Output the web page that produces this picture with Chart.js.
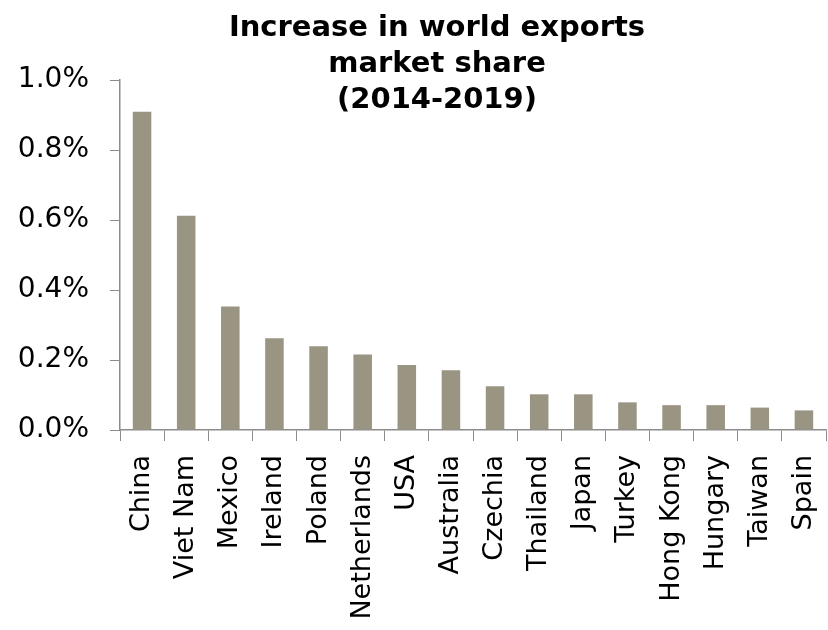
<!DOCTYPE html>
<html>
<head>
<meta charset="utf-8">
<script src="https://cdn.jsdelivr.net/npm/chart.js@4"></script>
<style>
  html, body { margin: 0; padding: 0; background: #fff; }
  #wrap { width: 828px; height: 630px; }
</style>
</head>
<body>
<div id="wrap"><canvas id="myChart" width="828" height="630"></canvas></div>
<script>
var countries = ['China', 'Viet Nam', 'Mexico', 'Ireland', 'Poland', 'Netherlands', 'USA', 'Australia',
                 'Czechia', 'Thailand', 'Japan', 'Turkey', 'Hong Kong', 'Hungary', 'Taiwan', 'Spain'];
// increase in share of world exports, percentage points
var shareIncrease = [0.909, 0.612, 0.353, 0.262, 0.239, 0.216, 0.186, 0.171,
                     0.125, 0.102, 0.102, 0.079, 0.071, 0.071, 0.064, 0.056];
var titleLines = ['Increase in world exports', 'market share', '(2014-2019)'];

var FONT = '"DejaVu Sans", sans-serif';
var AXIS = '#8c8c8c';

// title sits inside the plot, over the empty right-hand side
var titleInside = {
    id: 'titleInside',
    afterDraw: function(chart, args, opts) {
        var ctx = chart.ctx;
        ctx.save();
        ctx.fillStyle = '#000';
        ctx.font = 'bold 29px ' + FONT;
        ctx.textAlign = 'center';
        ctx.textBaseline = 'alphabetic';
        opts.lines.forEach(function(line, i) {
            ctx.fillText(line, opts.x, opts.y + i * opts.lineHeight);
        });
        ctx.restore();
    }
};

var ctx = document.getElementById('myChart').getContext('2d');

var myChart = new Chart(ctx, {
    type: 'bar',
    data: {
        labels: countries,
        datasets: [{
            data: shareIncrease,
            backgroundColor: '#9a9482',
            borderWidth: 0,
            barPercentage: 0.42,
            categoryPercentage: 1.0
        }]
    },
    options: {
        responsive: false,
        animation: false,
        layout: { padding: { top: 80, left: 0, right: 2, bottom: 0 } },
        plugins: {
            legend: { display: false },
            tooltip: { enabled: false },
            titleInside: { lines: titleLines, x: 437, y: 36, lineHeight: 36 }
        },
        scales: {
            x: {
                grid: { drawOnChartArea: false, tickLength: 11, color: AXIS, offset: true },
                border: { color: AXIS, width: 1.5 },
                ticks: {
                    color: '#000',
                    font: { family: FONT, size: 27 },
                    maxRotation: 90,
                    minRotation: 90,
                    padding: 14,
                    autoSkip: false
                },
                afterFit: function(scale) {
                    scale.height = 200;
                    scale.paddingLeft = 0;
                    scale.paddingRight = 0;
                }
            },
            y: {
                min: 0,
                max: 1.0,
                grid: { drawOnChartArea: false, tickLength: 10, color: AXIS },
                border: { color: AXIS, width: 1.5 },
                ticks: {
                    stepSize: 0.2,
                    color: '#000',
                    font: { family: FONT, size: 28 },
                    padding: 21,
                    callback: function(value) {
                        return value.toFixed(1) + '%';
                    }
                },
                afterFit: function(scale) { scale.width = 120; }
            }
        }
    },
    plugins: [titleInside]
});
</script>
</body>
</html>
